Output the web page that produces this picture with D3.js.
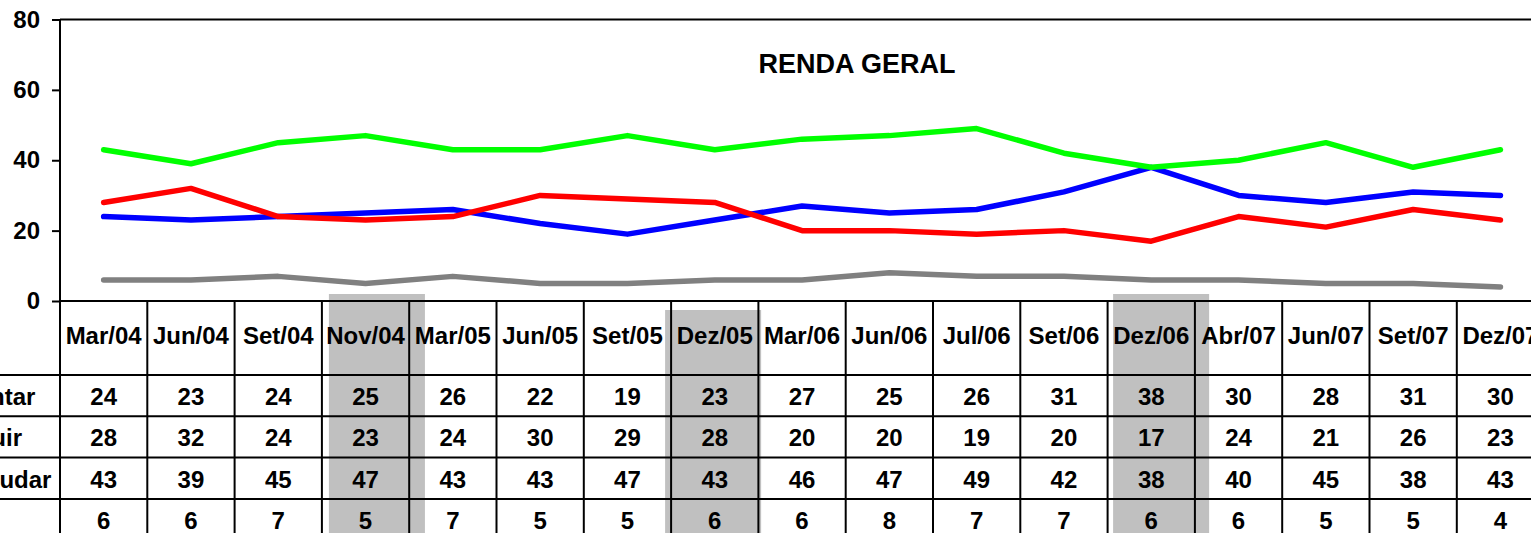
<!DOCTYPE html>
<html>
<head>
<meta charset="utf-8">
<script src="https://cdn.jsdelivr.net/npm/d3@7"></script>
<style>
  html, body { margin: 0; padding: 0; background: #ffffff; overflow: hidden; }
  svg { display: block; }
  text { font-family: "Liberation Sans", Arial, sans-serif; font-weight: bold; fill: #000; }
</style>
</head>
<body>
<svg id="chart" width="1531" height="533"></svg>
<script>
// ---- data ----
const categories = ["Mar/04","Jun/04","Set/04","Nov/04","Mar/05","Jun/05","Set/05","Dez/05","Mar/06","Jun/06","Jul/06","Set/06","Dez/06","Abr/07","Jun/07","Set/07","Dez/07"];
const seriesNames = ["Vai aumentar", "Vai diminuir", "Não vai mudar", "NS/NR"];
const aumentar = [24,23,24,25,26,22,19,23,27,25,26,31,38,30,28,31,30];
const diminuir = [28,32,24,23,24,30,29,28,20,20,19,20,17,24,21,26,23];
const naoMudar = [43,39,45,47,43,43,47,43,46,47,49,42,38,40,45,38,43];
const nsnr     = [6,6,7,5,7,5,5,6,6,8,7,7,6,6,5,5,4];
const yTicks = [0, 20, 40, 60, 80];
const highlighted = ["Nov/04", "Dez/05", "Dez/06"];
const title = "RENDA GERAL";

// ---- styles / layout ----
const colors = ["#0000ff", "#ff0000", "#00ff00", "#808080"];
const highlightStyle = { "Nov/04": {dx: 7, top: 294}, "Dez/05": {dx: -6, top: 310}, "Dez/06": {dx: 5.5, top: 294} };
const W = 1531, H = 533;
const left = 60, colW = 87.3;
const plotTop = 19.5, plotBottom = 301;
const headerH = 74, rowH = 41.3;
const fontSize = 24;

const svg = d3.select("#chart");
const x = d3.scaleBand().domain(categories).range([left, left + colW * categories.length]).padding(0);
const y = d3.scaleLinear().domain([0, 80]).range([plotBottom, plotTop]);
const cx = c => x(c) + x.bandwidth() / 2;

// highlight rectangles (behind everything)
svg.append("g").selectAll("rect").data(highlighted).join("rect")
  .attr("x", d => x(d) + highlightStyle[d].dx)
  .attr("y", d => highlightStyle[d].top)
  .attr("width", x.bandwidth() * 1.1)
  .attr("height", H - 290)
  .attr("fill", "#c0c0c0");

// series lines
const allSeries = [aumentar, diminuir, naoMudar, nsnr];
const line = d3.line().x((d, i) => cx(categories[i])).y(d => y(d));
svg.append("g").selectAll("path").data(allSeries).join("path")
  .attr("d", d => line(d))
  .attr("fill", "none")
  .attr("stroke", (d, i) => colors[i])
  .attr("stroke-width", 5.5)
  .attr("stroke-linejoin", "round")
  .attr("stroke-linecap", "round");

// y axis
const yAxis = d3.axisLeft(y).tickValues(yTicks).tickSize(8).tickPadding(12);
const gy = svg.append("g").attr("transform", `translate(${left},0)`).call(yAxis);
gy.select(".domain").remove();
gy.selectAll(".tick line").attr("stroke", "#000").attr("stroke-width", 2);
gy.selectAll(".tick text").attr("font-size", fontSize).attr("font-family", "Liberation Sans, Arial, sans-serif").attr("font-weight", "bold").attr("fill", "#000");

// frame: top border, left border, x axis
const grid = svg.append("g").attr("stroke", "#000").attr("stroke-width", 2);
grid.append("line").attr("x1", left).attr("x2", W + 20).attr("y1", plotTop).attr("y2", plotTop);
grid.append("line").attr("x1", left).attr("x2", left).attr("y1", plotTop).attr("y2", H + 5);
grid.append("line").attr("x1", left).attr("x2", W + 20).attr("y1", plotBottom).attr("y2", plotBottom);

// table row lines
const rowTops = seriesNames.map((s, i) => plotBottom + headerH + i * rowH);
grid.selectAll(".hrow").data(rowTops).join("line")
  .attr("x1", -200).attr("x2", W + 20)
  .attr("y1", d => d).attr("y2", d => d);
// column lines
grid.selectAll(".vcol").data(categories).join("line")
  .attr("x1", d => x(d) + x.bandwidth()).attr("x2", d => x(d) + x.bandwidth())
  .attr("y1", plotBottom).attr("y2", H + 5);

// header labels
svg.append("g").selectAll("text").data(categories).join("text")
  .attr("x", d => cx(d))
  .attr("y", plotBottom + 43)
  .attr("text-anchor", "middle")
  .attr("font-size", fontSize)
  .text(d => d);

// table values
allSeries.forEach((vals, r) => {
  svg.append("g").selectAll("text").data(vals).join("text")
    .attr("x", (d, i) => cx(categories[i]))
    .attr("y", rowTops[r] + rowH / 2 + 9.5)
    .attr("text-anchor", "middle")
    .attr("font-size", fontSize)
    .text(d => d);
});

// row labels (partly cut off at left edge, as in the reference)
svg.append("g").selectAll("text").data(seriesNames).join("text")
  .attr("x", -114)
  .attr("y", (d, i) => rowTops[i] + rowH / 2 + 9.5)
  .attr("text-anchor", "start")
  .attr("font-size", fontSize)
  .text(d => d);

// title
svg.append("text")
  .attr("x", 857).attr("y", 73)
  .attr("text-anchor", "middle")
  .attr("font-size", 27)
  .text(title);
</script>
</body>
</html>
